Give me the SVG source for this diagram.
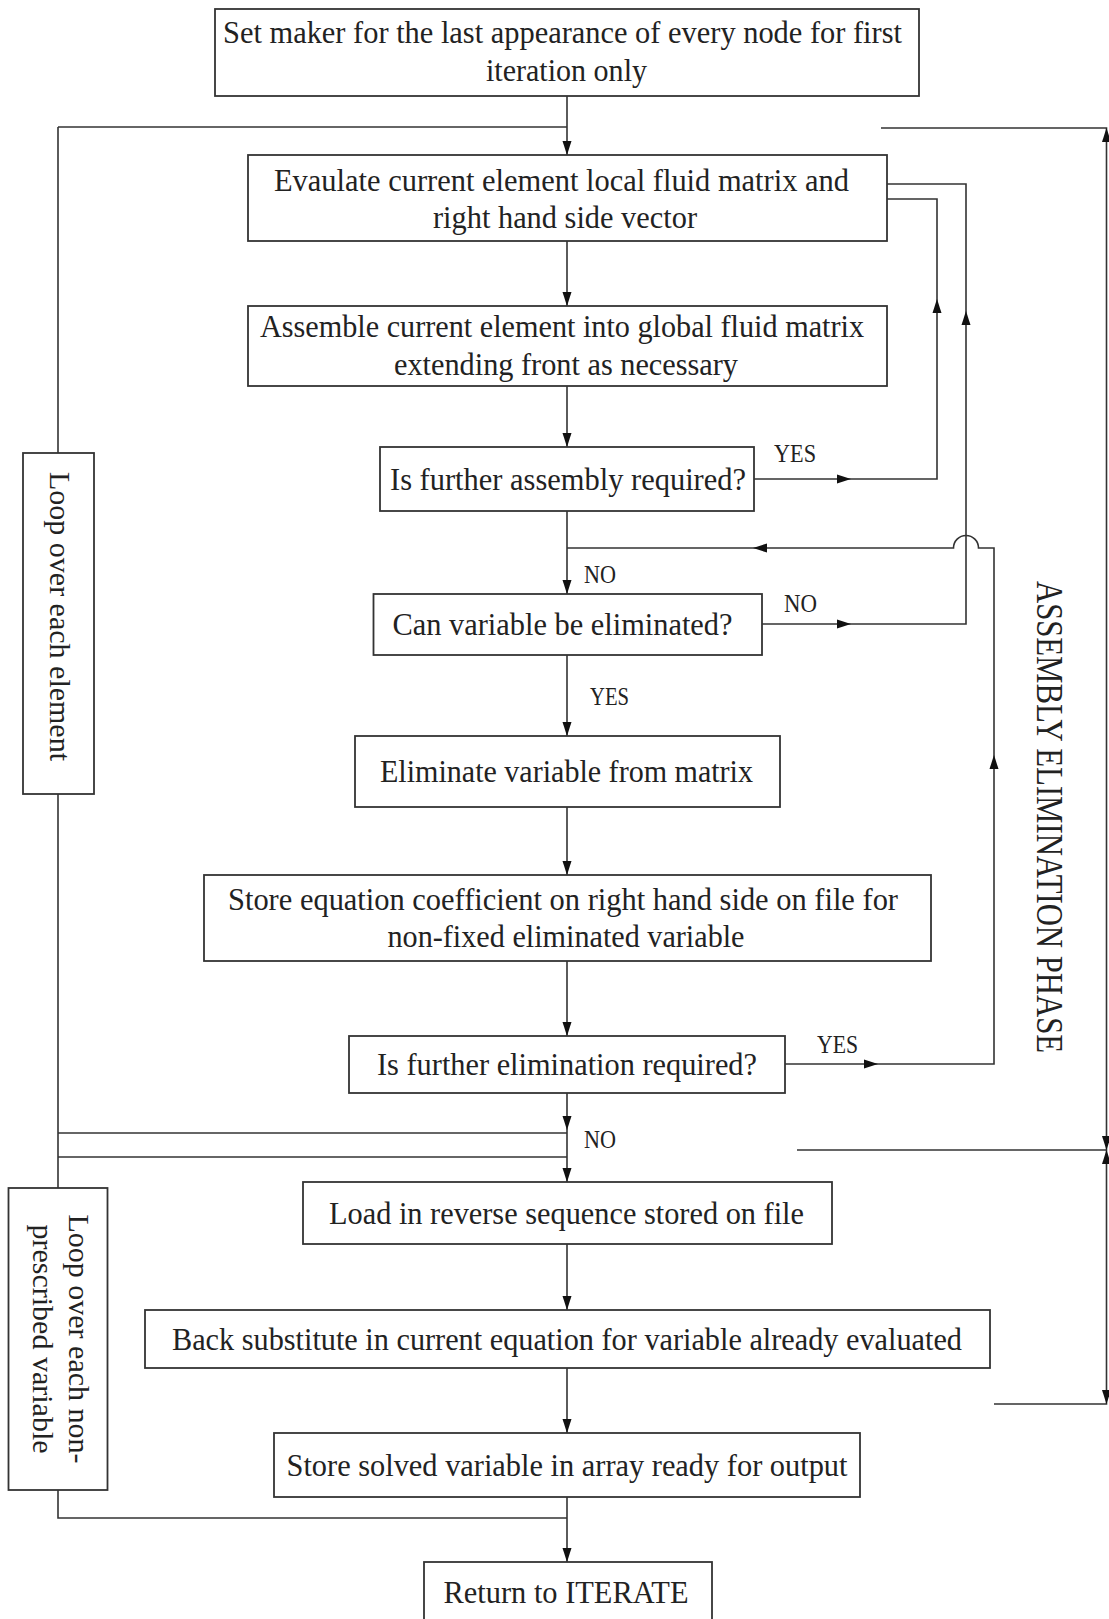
<svg xmlns="http://www.w3.org/2000/svg" xmlns:xlink="http://www.w3.org/1999/xlink" width="1109" height="1619" viewBox="0 0 1109 1619">
<style>
.box{fill:#fff;stroke:#333;stroke-width:1.8}
.ln{fill:none;stroke:#333;stroke-width:1.6}
.t{font-family:"Liberation Serif","Times New Roman",serif;font-size:31px;fill:#222}
.lb{font-family:"Liberation Serif","Times New Roman",serif;font-size:25px;fill:#222}
.lp{font-family:"Liberation Serif","Times New Roman",serif;font-size:30px;fill:#222}
.ph{font-family:"Liberation Serif","Times New Roman",serif;font-size:37px;fill:#222}
</style>
<defs>
<path id="ah" d="M0,0 L-14,-4.5 L-14,4.5 Z" fill="#111"/>
</defs>
<rect width="1109" height="1619" fill="#fff"/>

<g id="connectors">
<path class="ln" d="M567,96 V155"/>
<path class="ln" d="M58,127 H567"/>
<path class="ln" d="M58,127 V453"/>
<path class="ln" d="M58,794 V1188"/>
<path class="ln" d="M58,1133 H567"/>
<path class="ln" d="M58,1157 H567"/>
<path class="ln" d="M58,1490 V1518 H567"/>
<path class="ln" d="M567,241 V306"/>
<path class="ln" d="M567,386 V447"/>
<path class="ln" d="M567,511 V594"/>
<path class="ln" d="M567,655 V736"/>
<path class="ln" d="M567,807 V875"/>
<path class="ln" d="M567,961 V1036"/>
<path class="ln" d="M567,1093 V1182"/>
<path class="ln" d="M567,1244 V1310"/>
<path class="ln" d="M567,1368 V1433"/>
<path class="ln" d="M567,1497 V1562"/>
<path class="ln" d="M754,479 H937 V199 H887"/>
<path class="ln" d="M762,624 H966 V184 H887"/>
<path class="ln" d="M785,1064 H994 V548 H978.5 A12.5,12.5 0 0 0 953.5,548 H567"/>
<path class="ln" d="M881,128 H1106.5 V1404 H994"/>
<path class="ln" d="M797,1150 H1106.5"/>
<use xlink:href="#ah" transform="translate(567,155) rotate(90)"/>
<use xlink:href="#ah" transform="translate(567,306) rotate(90)"/>
<use xlink:href="#ah" transform="translate(567,447) rotate(90)"/>
<use xlink:href="#ah" transform="translate(567,594) rotate(90)"/>
<use xlink:href="#ah" transform="translate(567,736) rotate(90)"/>
<use xlink:href="#ah" transform="translate(567,875) rotate(90)"/>
<use xlink:href="#ah" transform="translate(567,1036) rotate(90)"/>
<use xlink:href="#ah" transform="translate(567,1130) rotate(90)"/>
<use xlink:href="#ah" transform="translate(567,1182) rotate(90)"/>
<use xlink:href="#ah" transform="translate(567,1310) rotate(90)"/>
<use xlink:href="#ah" transform="translate(567,1433) rotate(90)"/>
<use xlink:href="#ah" transform="translate(567,1562) rotate(90)"/>
<use xlink:href="#ah" transform="translate(851,479)"/>
<use xlink:href="#ah" transform="translate(851,624)"/>
<use xlink:href="#ah" transform="translate(878,1064)"/>
<use xlink:href="#ah" transform="translate(937,299) rotate(-90)"/>
<use xlink:href="#ah" transform="translate(966,311) rotate(-90)"/>
<use xlink:href="#ah" transform="translate(994,755) rotate(-90)"/>
<use xlink:href="#ah" transform="translate(753,548) rotate(180)"/>
<use xlink:href="#ah" transform="translate(1106.5,128) rotate(-90)"/>
<use xlink:href="#ah" transform="translate(1106.5,1150) rotate(90)"/>
<use xlink:href="#ah" transform="translate(1106.5,1150) rotate(-90)"/>
<use xlink:href="#ah" transform="translate(1106.5,1404) rotate(90)"/>
</g>

<g id="n-start">
<rect class="box" x="215" y="9" width="704" height="87"/>
<text class="t" x="223" y="43" textLength="679" lengthAdjust="spacingAndGlyphs">Set maker for the last appearance of every node for first</text>
<text class="t" x="486" y="81" textLength="161" lengthAdjust="spacingAndGlyphs">iteration only</text>
</g>
<g id="n-evaluate">
<rect class="box" x="248" y="155" width="639" height="86"/>
<text class="t" x="274" y="191" textLength="575" lengthAdjust="spacingAndGlyphs">Evaulate current element local fluid matrix and</text>
<text class="t" x="433" y="228" textLength="264" lengthAdjust="spacingAndGlyphs">right hand side vector</text>
</g>
<g id="n-assemble">
<rect class="box" x="248" y="306" width="639" height="80"/>
<text class="t" x="260" y="337" textLength="604" lengthAdjust="spacingAndGlyphs">Assemble current element into global fluid matrix</text>
<text class="t" x="394" y="375" textLength="344" lengthAdjust="spacingAndGlyphs">extending front as necessary</text>
</g>
<g id="n-dec1">
<rect class="box" x="380" y="447" width="374" height="64"/>
<text class="t" x="390" y="490" textLength="356" lengthAdjust="spacingAndGlyphs">Is further assembly required?</text>
</g>
<g id="n-dec2">
<rect class="box" x="373.5" y="594" width="388.5" height="61"/>
<text class="t" x="392.5" y="635" textLength="340" lengthAdjust="spacingAndGlyphs">Can variable be eliminated?</text>
</g>
<g id="n-eliminate">
<rect class="box" x="355" y="736" width="425" height="71"/>
<text class="t" x="380" y="782" textLength="373" lengthAdjust="spacingAndGlyphs">Eliminate variable from matrix</text>
</g>
<g id="n-store">
<rect class="box" x="204" y="875" width="727" height="86"/>
<text class="t" x="228" y="910" textLength="670" lengthAdjust="spacingAndGlyphs">Store equation coefficient on right hand side on file for</text>
<text class="t" x="387.5" y="947" textLength="357" lengthAdjust="spacingAndGlyphs">non-fixed eliminated variable</text>
</g>
<g id="n-dec3">
<rect class="box" x="349" y="1036" width="436" height="57"/>
<text class="t" x="377" y="1075" textLength="380" lengthAdjust="spacingAndGlyphs">Is further elimination required?</text>
</g>
<g id="n-load">
<rect class="box" x="303" y="1182" width="529" height="62"/>
<text class="t" x="329" y="1224" textLength="475" lengthAdjust="spacingAndGlyphs">Load in reverse sequence stored on file</text>
</g>
<g id="n-back">
<rect class="box" x="145" y="1310" width="845" height="58"/>
<text class="t" x="172" y="1350" textLength="790" lengthAdjust="spacingAndGlyphs">Back substitute in current equation for variable already evaluated</text>
</g>
<g id="n-solved">
<rect class="box" x="274" y="1433" width="586" height="64"/>
<text class="t" x="286.5" y="1476" textLength="561" lengthAdjust="spacingAndGlyphs">Store solved variable in array ready for output</text>
</g>
<g id="n-return">
<rect class="box" x="424" y="1562" width="288" height="80"/>
<text class="t" x="443.5" y="1603" textLength="245" lengthAdjust="spacingAndGlyphs">Return to ITERATE</text>
</g>
<g id="n-loop1">
<rect class="box" x="23" y="453" width="71" height="341"/>
<text class="lp" transform="translate(50,616.5) rotate(90)" text-anchor="middle">Loop over each element</text>
</g>
<g id="n-loop2">
<rect class="box" x="8.5" y="1188" width="99" height="302"/>
<text class="lp" transform="translate(69,1339) rotate(90)" text-anchor="middle">Loop over each non-</text>
<text class="lp" transform="translate(33,1339) rotate(90)" text-anchor="middle">prescribed variable</text>
</g>
<g id="labels">
<text class="lb" x="774" y="462" textLength="42" lengthAdjust="spacingAndGlyphs">YES</text>
<text class="lb" x="584" y="583" textLength="32" lengthAdjust="spacingAndGlyphs">NO</text>
<text class="lb" x="784" y="612" textLength="33" lengthAdjust="spacingAndGlyphs">NO</text>
<text class="lb" x="590" y="705" textLength="39" lengthAdjust="spacingAndGlyphs">YES</text>
<text class="lb" x="817" y="1053" textLength="41" lengthAdjust="spacingAndGlyphs">YES</text>
<text class="lb" x="584" y="1148" textLength="32" lengthAdjust="spacingAndGlyphs">NO</text>
</g>
<g id="phase">
<text class="ph" transform="translate(1037,581) rotate(90)" textLength="472" lengthAdjust="spacingAndGlyphs">ASSEMBLY ELIMINATION PHASE</text>
</g>
</svg>
